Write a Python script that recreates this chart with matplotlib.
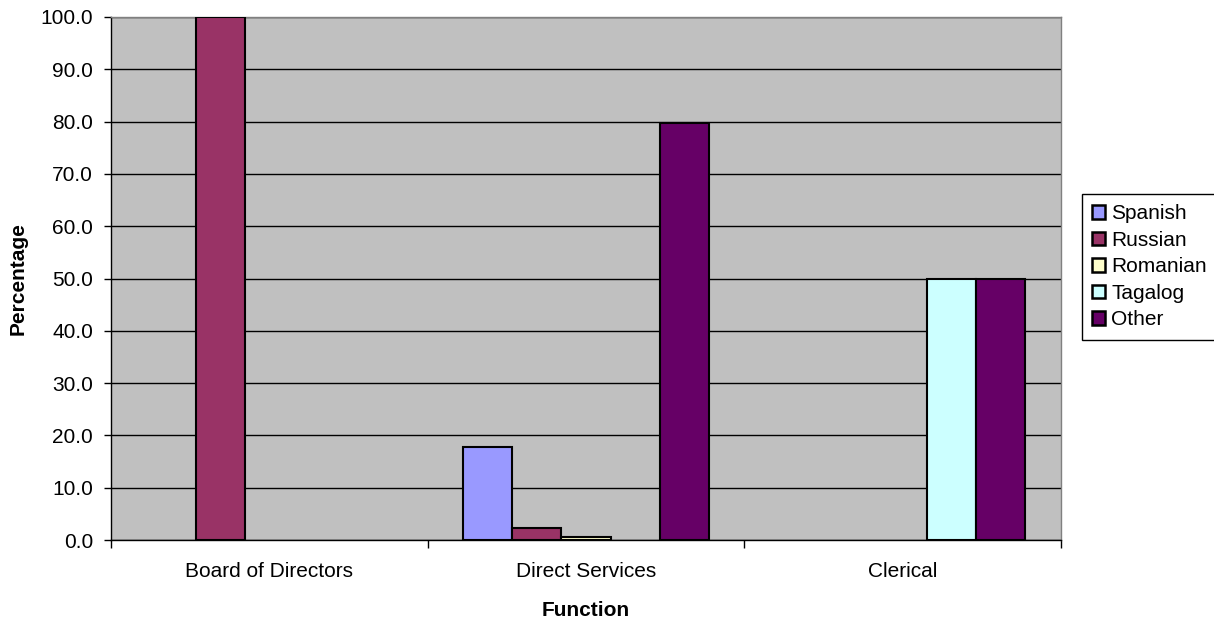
import numpy as np
import matplotlib
matplotlib.use("Agg")
import matplotlib.pyplot as plt
from matplotlib.patches import Patch

plt.rcParams['font.family'] = ['Liberation Sans', 'DejaVu Sans']

categories = ["Board of Directors", "Direct Services", "Clerical"]
series_names = ["Spanish", "Russian", "Romanian", "Tagalog", "Other"]
spanish = [0.0, 17.7, 0.0]
russian = [100.0, 2.2, 0.0]
romanian = [0.0, 0.6, 0.0]
tagalog = [0.0, 0.0, 50.0]
other = [0.0, 79.7, 50.0]
values = [spanish, russian, romanian, tagalog, other]
colors = ["#9999FF", "#993366", "#FFFFCC", "#CCFFFF", "#660066"]
y_ticks = np.arange(0, 101, 10)

FS = 15

fig = plt.figure(figsize=(12.14, 6.22), dpi=100)
W, H = 1214, 622
ax = fig.add_axes([111 / W, 1 - 540 / H, (1061 - 111) / W, (540 - 17) / H])
ax.set_facecolor("#C0C0C0")

n = len(series_names)
bar_w = 1 / 6.46
x = np.arange(len(categories))
for i, (name, vals, col) in enumerate(zip(series_names, values, colors)):
    offs = (i - (n - 1) / 2) * bar_w
    for xi, v in zip(x, vals):
        if v > 0:
            ax.bar(xi + offs, v, width=bar_w, color=col, edgecolor="black",
                   linewidth=1.5, zorder=3)

ax.set_xlim(-0.5, len(categories) - 0.5)
ax.set_ylim(0, 100)
ax.set_yticks(y_ticks)
ax.set_yticklabels([f"{t:.1f}" for t in y_ticks], fontsize=FS)
ax.yaxis.grid(True, color="black", linewidth=1, zorder=1)
ax.set_axisbelow(True)

ax.set_xticks(np.arange(-0.5, len(categories), 1.0))
ax.set_xticklabels([])
ax.set_xticks(x, minor=True)
ax.set_xticklabels(categories, minor=True, fontsize=FS)
ax.tick_params(axis="x", which="minor", length=0, pad=16)
ax.tick_params(axis="x", which="major", length=6, direction="out", width=1)
ax.tick_params(axis="y", length=5, direction="out", width=1, pad=8)

for side in ["top", "right"]:
    ax.spines[side].set_color("#808080")
    ax.spines[side].set_linewidth(1)
for side in ["left", "bottom"]:
    ax.spines[side].set_color("black")
    ax.spines[side].set_linewidth(1)

ax.set_ylabel("Percentage", fontsize=FS, fontweight="bold", labelpad=9)
ax.set_xlabel("Function", fontsize=FS, fontweight="bold", labelpad=14)

handles = [Patch(facecolor=c, edgecolor="black", linewidth=1.8, label=s)
           for s, c in zip(series_names, colors)]
leg = fig.legend(handles=handles, loc="upper left",
                 bbox_to_anchor=(1082 / W, 1 - 194 / H),
                 fontsize=FS, frameon=True, fancybox=False,
                 handlelength=0.6, handleheight=0.6, handletextpad=0.3,
                 labelspacing=0.36, borderpad=0.5, borderaxespad=0)
leg.get_frame().set_edgecolor("black")
leg.get_frame().set_linewidth(1)
leg.get_frame().set_alpha(1)

fig.savefig("out.png", dpi=100)
